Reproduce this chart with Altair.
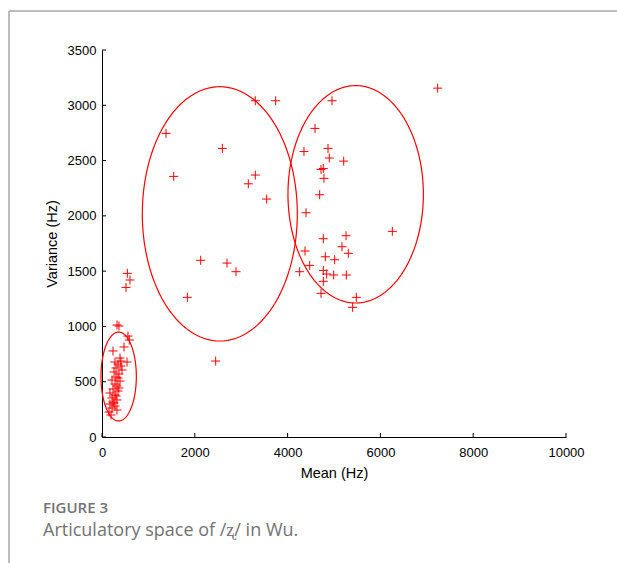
import altair as alt
import numpy as np
import pandas as pd

# ---- data ----
mean_hz = [
    # small cluster
    323, 366, 560, 474, 237, 539, 409, 345, 302, 431, 259, 366, 302, 216, 388,
    280, 323, 237, 345, 172, 280, 216, 323, 237, 172, 280, 216, 323, 151, 194,
    259, 302, 366, 345, 409, 280, 388, 589, 546, 603, 517,
    # middle cluster
    3304, 3743, 1379, 2594, 1545, 3304, 3153, 3549, 2127, 2694, 2888, 1839, 2450,
    # right cluster
    7234, 4957, 4591, 4353, 4871, 4899, 5209, 4720, 4770, 4784, 4691, 4397, 6257,
    4770, 5259, 5172, 5309, 4375, 4813, 5014, 4476, 4260, 4770, 4842, 4993, 5265,
    4770, 4720, 5481, 5402,
]
variance_hz = [
    1013, 1004, 913, 814, 778, 678, 687, 660, 624, 606, 588, 570, 542, 515, 506,
    479, 461, 434, 416, 398, 380, 353, 335, 316, 298, 280, 262, 244, 226, 199,
    307, 371, 443, 533, 642, 678, 714, 877, 1480, 1420, 1353,
    3041, 3041, 2746, 2610, 2357, 2369, 2290, 2152, 1598, 1573, 1495, 1263, 687,
    3155, 3041, 2791, 2583, 2610, 2523, 2495, 2420, 2429, 2339, 2191, 2028, 1860,
    1793, 1820, 1721, 1661, 1682, 1630, 1603, 1552, 1495, 1507, 1474, 1465, 1465,
    1408, 1299, 1263, 1173,
]

# ellipses: centre and semi-axes (Hz)
ell_cx = [359, 2539, 5467]
ell_cy = [547, 2018, 2195]
ell_rx = [381, 1670, 1459]
ell_ry = [402, 1150, 983]

x_ticks = [0, 2000, 4000, 6000, 8000, 10000]
y_ticks = [0, 500, 1000, 1500, 2000, 2500, 3000, 3500]

caption_head = "FIGURE 3"
caption_text = "Articulatory space of /ʐ/ in Wu."

X_TITLE = "Mean (Hz)"
Y_TITLE = "Variance (Hz)"

W, H = 464, 387

pts = pd.DataFrame({"mean": mean_hz, "var": variance_hz})

rows = []
t = np.linspace(0, 2 * np.pi, 241)
for i in range(3):
    for k, a in enumerate(t):
        rows.append({"e": i, "k": k,
                     "mean": ell_cx[i] + ell_rx[i] * np.cos(a),
                     "var": ell_cy[i] + ell_ry[i] * np.sin(a)})
ell = pd.DataFrame(rows)

xs = alt.Scale(domain=[0, 10000], nice=False, zero=False)
ys = alt.Scale(domain=[0, 3500], nice=False, zero=False)

axis_common = dict(labelFont="Liberation Sans", labelFontSize=13, labelColor="black",
                   titleFont="Liberation Sans", titleFontSize=14.5, titleColor="black",
                   titleFontWeight="normal", domainColor="black", domainWidth=1,
                   tickSize=0, grid=False, labelFlush=False)

XA = alt.Axis(values=x_ticks, format="d", labelPadding=9, titlePadding=7, **axis_common)
YA = alt.Axis(values=y_ticks, format="d", labelPadding=6, titlePadding=8, **axis_common)

points = alt.Chart(pts).mark_point(
    shape="M-1,0H1M0,-1V1", size=81, filled=False, color="#ff0000", strokeWidth=1, opacity=1
).encode(
    x=alt.X("mean:Q", scale=xs, title=X_TITLE, axis=XA),
    y=alt.Y("var:Q", scale=ys, title=Y_TITLE, axis=YA),
)

ellipses = alt.Chart(ell).mark_line(color="#ff0000", strokeWidth=1.2).encode(
    x=alt.X("mean:Q", scale=xs, title=X_TITLE, axis=XA),
    y=alt.Y("var:Q", scale=ys, title=Y_TITLE, axis=YA),
    detail="e:N",
    order="k:Q",
)

xt = alt.Chart(pd.DataFrame({"mean": x_ticks})).mark_rule(color="black", strokeWidth=1).encode(
    x=alt.X("mean:Q", scale=xs, title=X_TITLE, axis=XA), y=alt.value(H), y2=alt.value(H - 4))
yt = alt.Chart(pd.DataFrame({"var": y_ticks})).mark_rule(color="black", strokeWidth=1).encode(
    y=alt.Y("var:Q", scale=ys, title=Y_TITLE, axis=YA), x=alt.value(0), x2=alt.value(4))

frame_top = alt.Chart(pd.DataFrame({"a": [0]})).mark_rule(color="#a8a8a8", strokeWidth=1.5).encode(
    x=alt.value(-93), x2=alt.value(W + 60), y=alt.value(-39))
frame_left = alt.Chart(pd.DataFrame({"a": [0]})).mark_rule(color="#a8a8a8", strokeWidth=1.5).encode(
    x=alt.value(-93), y=alt.value(-39), y2=alt.value(H + 130))

cap1 = alt.Chart(pd.DataFrame({"t": [caption_head]})).mark_text(
    font="Open Sans", fontSize=15, fontWeight=600, color="#737373", align="left", baseline="alphabetic"
).encode(text="t:N", x=alt.value(-59), y=alt.value(463))
cap2 = alt.Chart(pd.DataFrame({"t": [caption_text]})).mark_text(
    font="Open Sans", fontSize=18, color="#737373", align="left", baseline="alphabetic"
).encode(text="t:N", x=alt.value(-59), y=alt.value(486))

chart = alt.layer(points, ellipses, xt, yt, frame_top, frame_left, cap1, cap2).properties(
    width=W, height=H,
    autosize=alt.AutoSizeParams(type="none"),
    padding={"left": 102, "top": 50, "right": 51, "bottom": 126},
    background="white",
).configure_view(stroke=None)

chart.save("out.html", embed_options={"renderer": "svg", "actions": False})
